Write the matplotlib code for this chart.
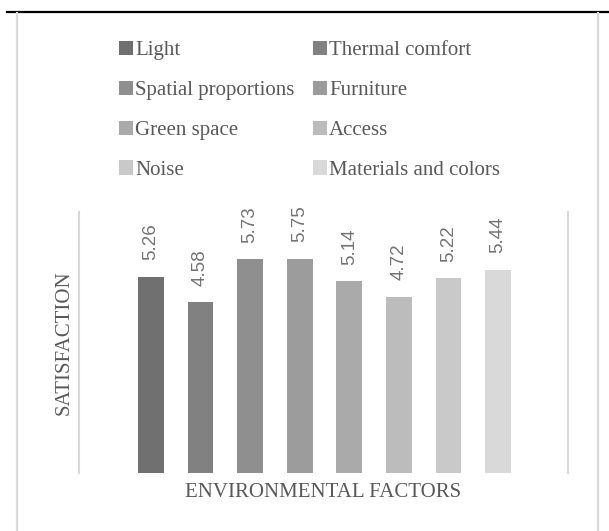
import matplotlib.pyplot as plt
from matplotlib.lines import Line2D

factors = ['Light', 'Thermal comfort', 'Spatial proportions', 'Furniture',
           'Green space', 'Access', 'Noise', 'Materials and colors']
satisfaction = [5.26, 4.58, 5.73, 5.75, 5.14, 4.72, 5.22, 5.44]
bar_colors = ['#707070', '#818181', '#8f8f8f', '#9c9c9c',
              '#aaaaaa', '#bcbcbc', '#c9c9c9', '#d9d9d9']

W, H = 609, 531
fig = plt.figure(figsize=(W / 100, H / 100), dpi=100)
ax = fig.add_axes([79 / W, 1 - 473 / H, (568 - 79) / W, (473 - 212) / H])

bars = []
for i, (name, val, col) in enumerate(zip(factors, satisfaction, bar_colors)):
    b = ax.bar(i, val, width=0.52, color=col, label=name)
    bars.append(b)
    ax.bar_label(b, labels=[f'{val:.2f}'], rotation=90, padding=12,
                 fontsize=13.5, color='#737373', family='Liberation Sans')

ax.set_xlim(-1.45, 8.41)
ax.set_ylim(0, 7)
ax.set_xticks([])
ax.set_yticks([])
for s in ['top', 'bottom']:
    ax.spines[s].set_visible(False)
for s in ['left', 'right']:
    ax.spines[s].set_color('#d9d9d9')
    ax.spines[s].set_linewidth(1.5)

serif = 'Liberation Serif'
ax.set_xlabel('ENVIRONMENTAL FACTORS', family=serif, fontsize=15,
              color='#595959', labelpad=7)
ax.set_ylabel('SATISFACTION', family=serif, fontsize=15,
              color='#595959', labelpad=4)

# legend, filled row by row like the original
order = [0, 2, 4, 6, 1, 3, 5, 7]
handles = [bars[i].patches[0] for i in order]
labels = [factors[i] for i in order]
fig.legend(handles, labels, ncol=2, loc='upper left',
           bbox_to_anchor=(119 / W, 1 - 41 / H), frameon=False,
           prop={'family': serif, 'size': 15}, labelcolor='#595959',
           handlelength=0.67, handleheight=0.67, handletextpad=0.12,
           columnspacing=0.85, labelspacing=0.98, borderpad=0,
           borderaxespad=0)

# outer chart frame
fig.add_artist(Line2D([7 / W, 1], [1 - 12 / H, 1 - 12 / H],
                      color='black', lw=1.6, transform=fig.transFigure))
for xp in [17, 598]:
    fig.add_artist(Line2D([xp / W, xp / W], [0, 1 - 13 / H],
                          color='#d9d9d9', lw=1.6, transform=fig.transFigure))

fig.savefig('out.png', dpi=100)
